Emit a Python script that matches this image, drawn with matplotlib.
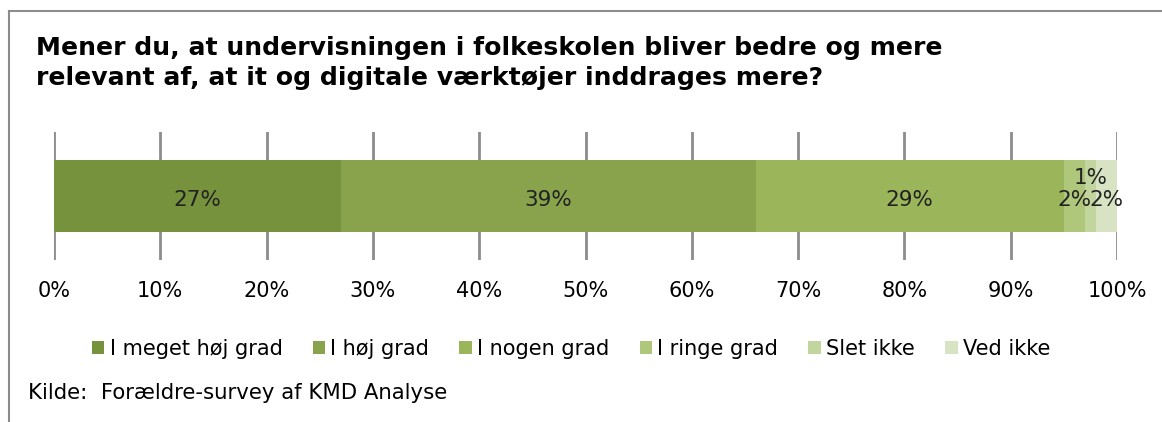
import matplotlib
matplotlib.use("Agg")
import matplotlib.pyplot as plt
from matplotlib.patches import Patch

title = "Mener du, at undervisningen i folkeskolen bliver bedre og mere\nrelevant af, at it og digitale værktøjer inddrages mere?"
categories = ["I meget høj grad", "I høj grad", "I nogen grad", "I ringe grad", "Slet ikke", "Ved ikke"]
values = [27, 39, 29, 2, 1, 2]
colors = ["#77923D", "#88A34C", "#9BB65A", "#AFC77B", "#C3D59E", "#D8E3C3"]
label_shift = [0, 0, 0, 0, 0.17, 0]  # Excel nudged the 1% label upwards
source = "Kilde:  Forældre-survey af KMD Analyse"
ticks = list(range(0, 101, 10))

plt.rcParams["font.family"] = ["DejaVu Sans"]
fig = plt.figure(figsize=(11.62, 4.22), dpi=100)

# frame around the chart (only top and left are visible in the crop)
fig.add_artist(plt.Line2D([9 / 1162, 9 / 1162], [0, 1 - 11 / 422], color="#8C8C8C", lw=1.5))
fig.add_artist(plt.Line2D([9 / 1162, 1], [1 - 11 / 422, 1 - 11 / 422], color="#8C8C8C", lw=1.5))

fig.text(36 / 1162, 1 - 63 / 422, title, fontsize=18.1, fontweight="bold", va="center", ha="left",
         linespacing=1.3)

ax = fig.add_axes([54 / 1162, 162 / 422, 1063 / 1162, 128 / 422])
left = 0
for cat, v, c, s in zip(categories, values, colors, label_shift):
    ax.barh(0, v, left=left, height=0.57, color=c, label=cat, zorder=2)
    ax.text(left + v / 2, s - 0.03, f"{v}%", ha="center", va="center", fontsize=15.5, color="#222222", zorder=3)
    left += v

ax.set_xlim(0, 100)
ax.set_ylim(-0.5, 0.5)
ax.set_xticks(ticks)
ax.set_xticklabels([f"{t}%" for t in ticks], fontsize=15)
ax.set_yticks([])
ax.tick_params(axis="x", length=0, pad=15)
ax.grid(axis="x", color="#8C8C8C", lw=2, zorder=1)
for sp in ax.spines.values():
    sp.set_visible(False)

handles = [Patch(facecolor=c, edgecolor="none") for c in colors]
fig.legend(handles, categories, loc="center", bbox_to_anchor=(571 / 1162, 1 - 349 / 422), ncol=6,
           frameon=False, fontsize=15, handlelength=0.6, handleheight=0.6, handletextpad=0.25,
           columnspacing=1.45)

fig.text(28 / 1162, 1 - 393 / 422, source, fontsize=15.3, va="center", ha="left")

fig.savefig("out.png", dpi=100)
